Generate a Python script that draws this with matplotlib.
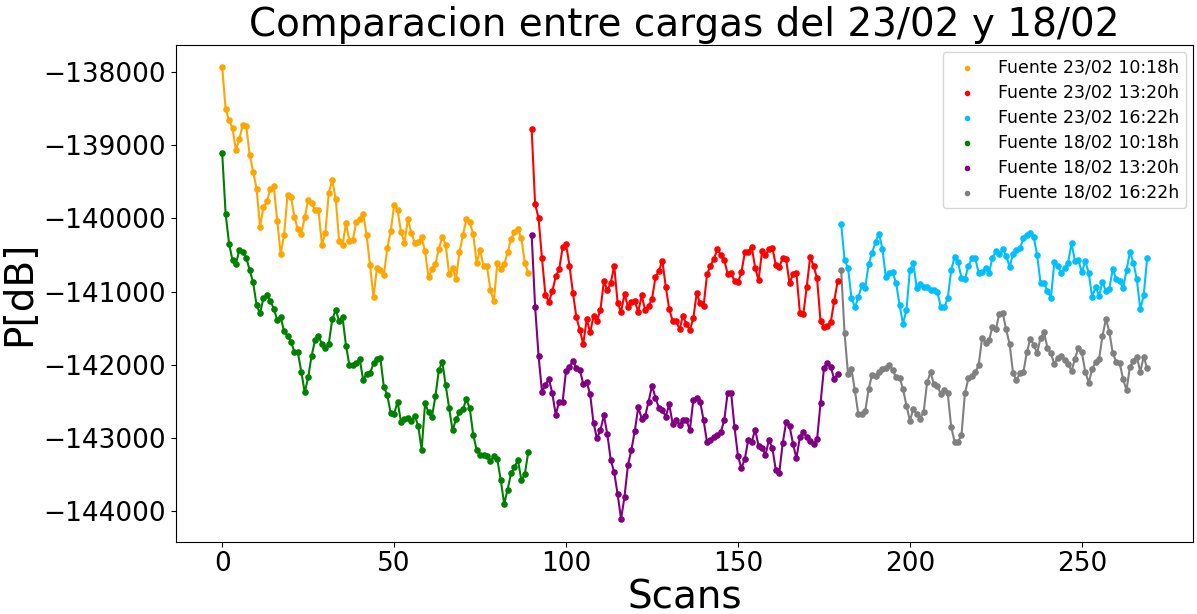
import numpy as np
import matplotlib
matplotlib.use('Agg')
import matplotlib.pyplot as plt

# series 1: scans 0-89, series 2: 90-179, series 3: 180-269
scans_1 = np.arange(0, 90)
scans_2 = np.arange(90, 180)
scans_3 = np.arange(180, 270)

f23_1018 = [-137936, -138506, -138661, -138770, -139071, -138911, -138720, -138738, -139134, -139362,
            -139595, -140118, -139845, -139768, -139595, -139554, -140032, -140488, -140228, -139677,
            -139704, -139982, -140150, -140210, -139982, -139754, -139791, -139886, -139891, -140360,
            -140201, -139649, -139481, -139731, -140305, -140369, -140064, -140314, -140292, -140046,
            -140009, -139936, -140232, -140643, -141075, -140674, -140706, -140779, -140410, -140178,
            -139818, -139886, -140187, -140333, -140014, -140196, -140333, -140323, -140260, -140451,
            -140806, -140688, -140629, -140415, -140250, -140360, -140765, -140683, -140825, -140460,
            -140228, -140014, -140055, -140214, -140606, -140437, -140652, -140656, -140979, -141134,
            -140615, -140688, -140629, -140465, -140287, -140180, -140146, -140273, -140606, -140747]

f23_1320 = [-138784, -139804, -139995, -140547, -141048, -141139, -140998, -140793, -140697, -140396,
            -140355, -140647, -141016, -141349, -141526, -141718, -141380, -141558, -141339, -141403,
            -141248, -140857, -140980, -140884, -140647, -141157, -141280, -141034, -141207, -141139,
            -141135, -141276, -141053, -141253, -141198, -141098, -140807, -140716, -140579, -140934,
            -141239, -141403, -141399, -141517, -141331, -141449, -141526, -141367, -141021, -141162,
            -141198, -140766, -140647, -140551, -140424, -140497, -140574, -140757, -140752, -140857,
            -140875, -140738, -140465, -140456, -140387, -140679, -140843, -140447, -140506, -140415,
            -140401, -140638, -140661, -140547, -140561, -140889, -140761, -140752, -141290, -141312,
            -140934, -140524, -140652, -140820, -141403, -141481, -141472, -141413, -141126, -140857]

f23_1622 = [-140073, -140565, -140679, -141084, -141216, -141080, -140916, -140948, -140629, -140469,
            -140323, -140209, -140414, -140802, -140743, -140738, -140884, -141189, -141440, -141248,
            -140702, -140615, -140957, -140893, -140943, -140938, -140984, -140985, -141011, -141212,
            -141216, -141093, -140711, -140524, -140601, -140811, -140834, -140651, -140547, -140547,
            -140743, -140733, -140674, -140752, -140538, -140451, -140492, -140424, -140510, -140661,
            -140487, -140433, -140410, -140273, -140228, -140200, -140250, -140501, -140888, -140888,
            -140989, -141093, -140601, -140651, -140743, -140683, -140606, -140342, -140579, -140569,
            -140738, -140583, -140743, -141080, -140934, -141061, -140866, -140993, -140961, -140692,
            -140829, -140856, -140957, -140706, -140460, -140606, -140834, -141244, -141048, -140540]

f18_1018 = [-139112, -139941, -140346, -140574, -140620, -140428, -140465, -140538, -140711, -140875,
            -141189, -141298, -141089, -141052, -141125, -141235, -141385, -141348, -141544, -141604,
            -141690, -141822, -141831, -142096, -142378, -142175, -141877, -141668, -141608, -141722,
            -141777, -141713, -141381, -141253, -141399, -141353, -141740, -142009, -142009, -141977,
            -141927, -142210, -142123, -142119, -141982, -141918, -141909, -142301, -142415, -142661,
            -142675, -142506, -142780, -142748, -142730, -142766, -142702, -142834, -143166, -142529,
            -142652, -142711, -142433, -142077, -141959, -142282, -142592, -142898, -142747, -142652,
            -142610, -142474, -142597, -142957, -143166, -143230, -143230, -143248, -143317, -143248,
            -143294, -143572, -143904, -143708, -143485, -143400, -143303, -143576, -143499, -143194]

f18_1320 = [-140228, -141207, -141877, -142369, -142278, -142191, -142392, -142683, -142506, -142506,
            -142082, -142027, -141950, -142041, -142068, -142264, -142242, -142401, -142802, -143007,
            -142893, -142693, -142948, -143303, -143472, -143772, -144109, -143804, -143371, -143167,
            -142902, -142579, -142738, -142702, -142506, -142287, -142451, -142592, -142620, -142711,
            -142542, -142807, -142761, -142820, -142752, -142752, -142898, -142488, -142456, -142506,
            -142761, -143062, -143025, -142984, -142962, -142921, -142761, -142383, -142383, -142857,
            -143249, -143417, -143285, -143025, -143053, -142889, -143112, -143135, -143235, -143030,
            -143139, -143440, -143480, -143076, -142788, -142839, -143080, -143281, -142989, -142921,
            -142984, -143039, -143089, -143021, -142529, -142050, -141973, -142032, -142201, -142128]

f18_1622 = [-140706, -141572, -142128, -142059, -142351, -142679, -142670, -142638, -142333, -142137,
            -142150, -142105, -142064, -142041, -142005, -142078, -142173, -142178, -142333, -142560,
            -142765, -142606, -142674, -142738, -142647, -142242, -142105, -142270, -142287, -142405,
            -142346, -142392, -142847, -143053, -143053, -142961, -142392, -142187, -142150, -142105,
            -142005, -141631, -141699, -141667, -141485, -141513, -141303, -141298, -141517, -141722,
            -142114, -142210, -142114, -142105, -141831, -141649, -141725, -141845, -141631, -141558,
            -141768, -141845, -141991, -141904, -141877, -141936, -141991, -142087, -141918, -141768,
            -141831, -142096, -142246, -142059, -141968, -141927, -141608, -141376, -141549, -141845,
            -141959, -141973, -142200, -142346, -142027, -141950, -141891, -142096, -141891, -142050]

series = [
    (scans_1, f23_1018, 'orange', 'Fuente 23/02 10:18h'),
    (scans_2, f23_1320, 'red', 'Fuente 23/02 13:20h'),
    (scans_3, f23_1622, 'deepskyblue', 'Fuente 23/02 16:22h'),
    (scans_1, f18_1018, 'green', 'Fuente 18/02 10:18h'),
    (scans_2, f18_1320, 'purple', 'Fuente 18/02 13:20h'),
    (scans_3, f18_1622, 'gray', 'Fuente 18/02 16:22h'),
]

fig = plt.figure(figsize=(11.97, 6.14), dpi=100)
ax = fig.add_axes([0.147, 0.118, 0.85, 0.809])

for x, y, c, lab in series:
    ax.plot(x, y, color=c, lw=1.5)
    ax.scatter(x, y, color=c, s=14, label=lab, zorder=3)

ax.set_title('Comparacion entre cargas del 23/02 y 18/02', fontsize=28)
ax.set_xlabel('Scans', fontsize=28, labelpad=1)
ax.set_ylabel('P[dB]', fontsize=28)
ax.tick_params(axis='both', labelsize=19)
ax.legend(loc='upper right', fontsize=12.5, markerscale=0.8, labelspacing=0.4,
          borderaxespad=0.4)

fig.savefig('out.png', dpi=100)
